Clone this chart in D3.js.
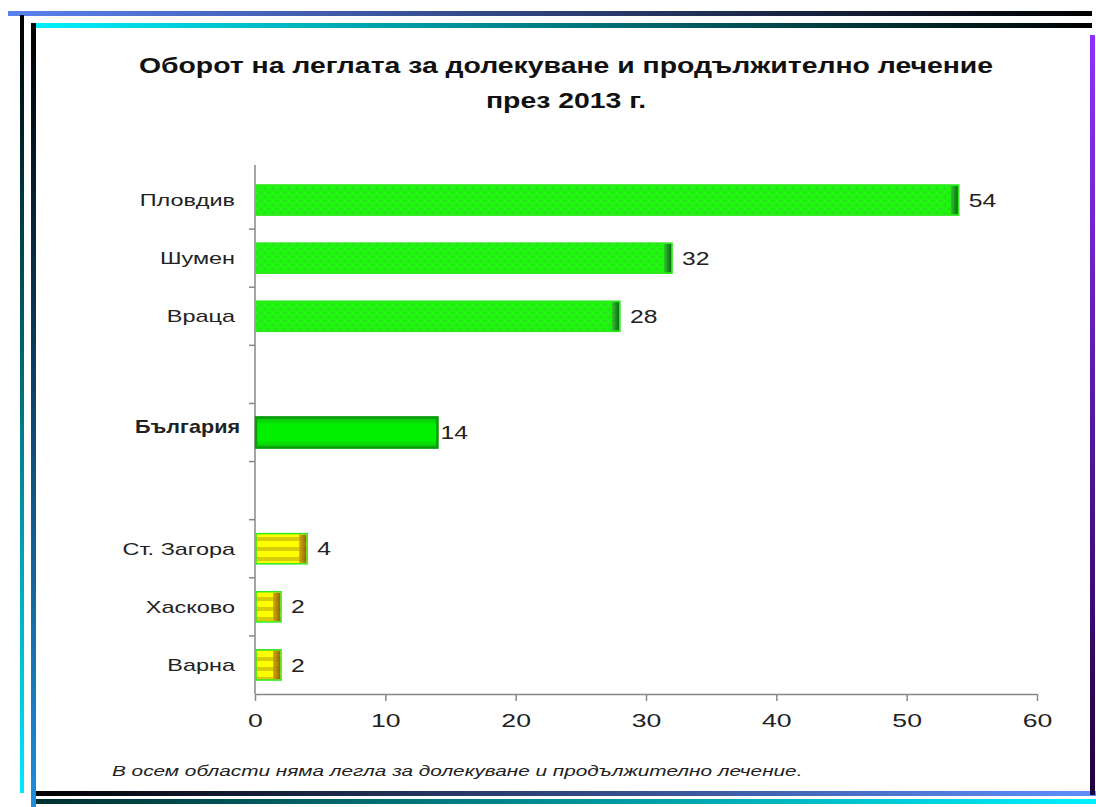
<!DOCTYPE html>
<html>
<head>
<meta charset="utf-8">
<script src="https://cdn.jsdelivr.net/npm/d3@7"></script>
<style>
  body { margin: 0; background: #fff; }
  text { font-family: "Liberation Sans", Arial, sans-serif; }
</style>
</head>
<body>
<div id="chart"></div>
<script>
// data
var rows = ["Пловдив", "Шумен", "Враца", "gap1", "България", "gap2", "Ст. Загора", "Хасково", "Варна"];
var regions = ["Пловдив", "Шумен", "Враца", "България", "Ст. Загора", "Хасково", "Варна"];
var turnover = [54, 32, 28, 14, 4, 2, 2];
var barKind = ["high", "high", "high", "country", "low", "low", "low"];
var xTicks = [0, 10, 20, 30, 40, 50, 60];
var titleLines = ["Оборот на леглата за долекуване и продължително лечение", "през 2013 г."];
var footnote = "В осем области няма легла за долекуване и продължително лечение.";

var data = regions.map(function(r, i) {
    return {name: r, value: turnover[i], kind: barKind[i]};
});

var svgWidth = 1096, svgHeight = 807;
var margin = {top: 171, left: 255, right: 59, bottom: 113};
var width = svgWidth - margin.left - margin.right;
var height = svgHeight - margin.top - margin.bottom;

var svg = d3.select("#chart").append("svg")
    .attr("width", svgWidth).attr("height", svgHeight);

var defs = svg.append("defs");

// frame gradients
function lineGrad(id, x2, y2, c1, c2) {
    var g = defs.append("linearGradient").attr("id", id)
        .attr("x1", 0).attr("y1", 0).attr("x2", x2).attr("y2", y2);
    g.append("stop").attr("offset", "0%").attr("stop-color", c1);
    g.append("stop").attr("offset", "100%").attr("stop-color", c2);
    return g;
}
lineGrad("gTop1", 1, 0, "#5a82f0", "#000");
lineGrad("gTop2", 1, 0, "#00f0ff", "#000");
lineGrad("gLeft1", 0, 1, "#000", "#00e8ff");
lineGrad("gLeft2", 0, 1, "#000", "#1c8ee0");
lineGrad("gBot1", 1, 0, "#000", "#6090ff");
lineGrad("gBot2", 1, 0, "#003030", "#00f0ff");
lineGrad("gRight", 0, 1, "#9030ff", "#200040");
lineGrad("gEndHigh", 1, 0, "#30c030", "#0a6010");
lineGrad("gEndLow", 1, 0, "#d0a010", "#8a5a10");

// bar patterns
var pHigh = defs.append("pattern").attr("id", "patHigh")
    .attr("patternUnits", "userSpaceOnUse").attr("width", 8).attr("height", 8);
pHigh.append("rect").attr("width", 8).attr("height", 8).attr("fill", "#1cfa0c");
pHigh.append("circle").attr("cx", 2).attr("cy", 2).attr("r", 1.8).attr("fill", "#3cc832").attr("opacity", 0.6);
pHigh.append("circle").attr("cx", 6).attr("cy", 6).attr("r", 1.8).attr("fill", "#3cc832").attr("opacity", 0.6);

var pLow = defs.append("pattern").attr("id", "patLow")
    .attr("patternUnits", "userSpaceOnUse").attr("width", 10).attr("height", 10);
pLow.append("rect").attr("width", 10).attr("height", 10).attr("fill", "#ffff00");
pLow.append("rect").attr("y", 6).attr("width", 10).attr("height", 4).attr("fill", "#d6cc08");

var gCountry = defs.append("linearGradient").attr("id", "gradCountry")
    .attr("x1", 0).attr("y1", 0).attr("x2", 0).attr("y2", 1);
gCountry.append("stop").attr("offset", "0%").attr("stop-color", "#0fbf0f");
gCountry.append("stop").attr("offset", "25%").attr("stop-color", "#00f000");
gCountry.append("stop").attr("offset", "75%").attr("stop-color", "#00f000");
gCountry.append("stop").attr("offset", "100%").attr("stop-color", "#0fbf0f");

// frame
var frame = svg.append("g").attr("class", "frame");
frame.append("rect").attr("x", 8).attr("y", 11).attr("width", 1084).attr("height", 5).attr("fill", "url(#gTop1)");
frame.append("rect").attr("x", 33).attr("y", 23).attr("width", 1059).attr("height", 5).attr("fill", "url(#gTop2)");
frame.append("rect").attr("x", 20).attr("y", 15).attr("width", 4).attr("height", 778).attr("fill", "url(#gLeft1)");
frame.append("rect").attr("x", 31).attr("y", 23).attr("width", 5).attr("height", 784).attr("fill", "url(#gLeft2)");
frame.append("rect").attr("x", 36).attr("y", 791).attr("width", 1060).attr("height", 5).attr("fill", "url(#gBot1)");
frame.append("rect").attr("x", 36).attr("y", 799).attr("width", 1060).attr("height", 5).attr("fill", "url(#gBot2)");
frame.append("rect").attr("x", 1090).attr("y", 35).attr("width", 5).attr("height", 760).attr("fill", "url(#gRight)");

// title
svg.selectAll(".title").data(titleLines).enter().append("text")
    .attr("class", "title")
    .attr("transform", function(d, i) { return "translate(566 " + (73 + i * 35) + ") scale(1.29 1)"; })
    .attr("text-anchor", "middle")
    .attr("font-size", "22px").attr("font-weight", "bold").attr("fill", "#111")
    .text(function(d) { return d; });

var g = svg.append("g")
    .attr("transform", "translate(" + margin.left + " " + margin.top + ")");

// scales
var x = d3.scaleLinear().domain([0, 60]).range([0, width]);
var y = d3.scaleBand().domain(rows).range([0, height]).paddingInner(0.48).paddingOuter(0.24);
var yStep = d3.scaleBand().domain(rows).range([0, height]);

// x axis
var xAxis = g.append("g").attr("class", "x axis")
    .attr("transform", "translate(0 " + height + ")")
    .call(d3.axisBottom(x).tickValues(xTicks).tickSize(7).tickSizeOuter(0));
xAxis.select(".domain").attr("stroke", "#888").attr("stroke-width", 1.5);
xAxis.selectAll(".tick line").attr("stroke", "#888").attr("stroke-width", 1.5);
xAxis.selectAll("text").attr("font-size", "19px").attr("fill", "#222").attr("dy", "1.2em")
    .attr("transform", "scale(1.4 1)")
    .attr("font-family", "'Liberation Sans', Arial, sans-serif");

// y axis with ticks on band boundaries
var yAxis = g.append("g").attr("class", "y axis");
yAxis.append("line").attr("x1", 0).attr("x2", 0).attr("y1", -6).attr("y2", height)
    .attr("stroke", "#888").attr("stroke-width", 1.5);
yAxis.selectAll(".btick").data(rows.slice(1)).enter().append("line")
    .attr("class", "btick")
    .attr("x1", -6).attr("x2", 0)
    .attr("y1", function(d) { return yStep(d); })
    .attr("y2", function(d) { return yStep(d); })
    .attr("stroke", "#888").attr("stroke-width", 1.5);

// category labels
g.selectAll(".cat").data(data).enter().append("text")
    .attr("class", "cat")
    .attr("transform", function(d) {
        var isC = d.kind === "country";
        return "translate(" + (isC ? -15 : -20) + " " + (y(d.name) + y.bandwidth() / 2 + (isC ? -6 : 0)) + ") scale(" + (isC ? 1.2 : 1.38) + " 1)";
    })
    .attr("dy", "0.35em")
    .attr("text-anchor", "end")
    .attr("font-size", function(d) { return d.kind === "country" ? "18px" : "17px"; })
    .attr("font-weight", function(d) { return d.kind === "country" ? "bold" : "normal"; })
    .attr("fill", "#222")
    .text(function(d) { return d.name; });

// bars
var bars = g.selectAll(".bar").data(data).enter().append("g").attr("class", "bar");
bars.append("rect")
    .attr("x", x(0) + 1)
    .attr("y", function(d) { return y(d.name); })
    .attr("width", function(d) { return x(d.value) - x(0) - 1; })
    .attr("height", y.bandwidth())
    .attr("fill", function(d) {
        if (d.kind === "high") return "url(#patHigh)";
        if (d.kind === "low") return "url(#patLow)";
        return "url(#gradCountry)";
    })
    .attr("stroke", function(d) { return d.kind === "country" ? "#0a9a0a" : "#30e820"; })
    .attr("stroke-width", function(d) { return d.kind === "country" ? 2.5 : 1.5; });

// dark right end of each bar
bars.filter(function(d) { return d.kind !== "country"; }).append("rect")
    .attr("x", function(d) { return x(d.value) - 8; })
    .attr("y", function(d) { return y(d.name) + 1; })
    .attr("width", 7)
    .attr("height", y.bandwidth() - 2)
    .attr("fill", function(d) { return d.kind === "high" ? "url(#gEndHigh)" : "url(#gEndLow)"; })
    .attr("opacity", 0.9);

// value labels
g.selectAll(".val").data(data).enter().append("text")
    .attr("class", "val")
    .attr("transform", function(d) {
        return "translate(" + (x(d.value) + (d.kind === "country" ? 3 : 10)) + " " + (y(d.name) + y.bandwidth() / 2) + ") scale(1.3 1)";
    })
    .attr("dy", "0.35em")
    .attr("font-size", "19px").attr("fill", "#222")
    .text(function(d) { return d.value; });

// footnote
svg.append("text")
    .attr("transform", "translate(112 776) scale(1.34 1)")
    .attr("font-size", "15.5px").attr("font-style", "italic").attr("fill", "#222")
    .text(footnote);
</script>
</body>
</html>
